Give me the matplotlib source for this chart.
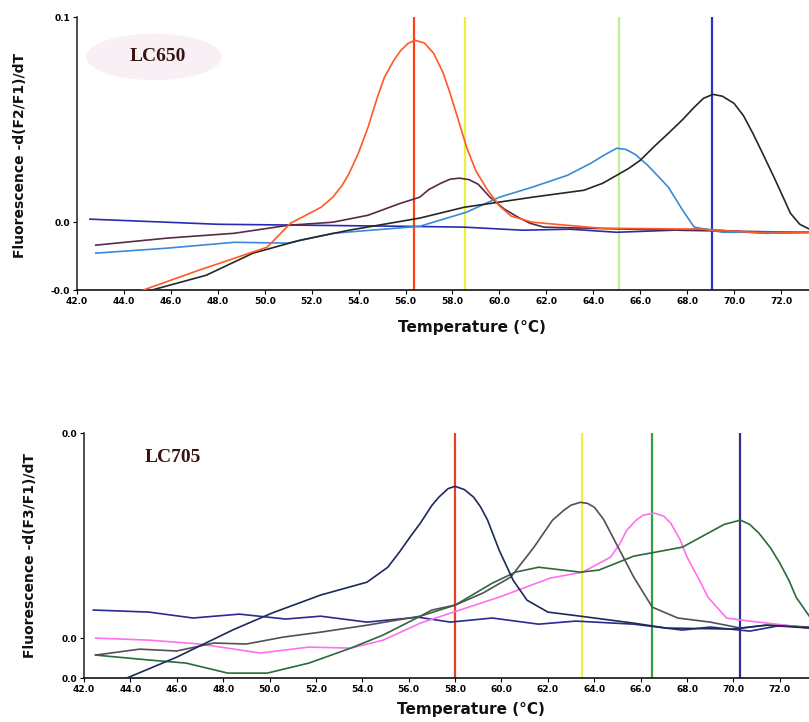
"""
Melting curves LC650 / LC705
"""

import matplotlib
matplotlib.use('Agg')
import matplotlib.pyplot as plt
from matplotlib.patches import Ellipse

plt.rcParams['font.family'] = ['DejaVu Sans']

# ---- LC650 (top) ----
top_orange_t = [44.6, 47.2, 50.1, 51.1, 52.4, 52.9, 53.3, 53.6, 54.0, 54.4, 54.8, 55.1,
                55.5, 55.8, 56.1, 56.4, 56.8, 57.2, 57.6, 57.9, 58.3, 58.6, 59.0, 59.5,
                60.0, 60.5, 61.4, 64.3, 68.6, 71.4, 73.3]
top_orange_v = [-0.034, -0.0234, -0.0122, -0.0005, 0.0073, 0.0122, 0.018, 0.0239, 0.034,
                0.0463, 0.061, 0.0707, 0.079, 0.0839, 0.0872, 0.0888, 0.0875, 0.0824,
                0.073, 0.0629, 0.048, 0.0366, 0.025, 0.0156, 0.008, 0.003, 0.0, -0.0029,
                -0.0034, -0.0054, -0.0049]

top_black_t = [45.0, 47.5, 49.5, 51.5, 53.6, 56.6, 58.5, 61.4, 63.6, 64.4, 65.0, 65.5,
               66.0, 66.6, 67.2, 67.8, 68.3, 68.7, 69.1, 69.5, 70.0, 70.4, 70.8, 71.2,
               71.7, 72.1, 72.4, 72.8, 73.3]
top_black_v = [-0.0337, -0.0259, -0.0151, -0.0088, -0.0039, 0.002, 0.0073, 0.0122, 0.0156,
               0.019, 0.0229, 0.0262, 0.0302, 0.037, 0.0434, 0.050, 0.0561, 0.0605, 0.0624,
               0.0615, 0.058, 0.052, 0.0434, 0.034, 0.022, 0.012, 0.0044, -0.001, -0.0039]

top_maroon_t = [42.8, 45.8, 48.7, 51.0, 52.9, 54.4, 55.8, 56.6, 57.0, 57.5, 57.9, 58.3,
                58.7, 59.1, 59.6, 60.2, 60.8, 61.3, 61.9, 64.0, 68.0, 73.3]
top_maroon_v = [-0.0112, -0.0078, -0.0054, -0.0015, 0.0, 0.0034, 0.0093, 0.0122, 0.016,
                0.019, 0.021, 0.0215, 0.0208, 0.0185, 0.0122, 0.0065, 0.0024, -0.0005,
                -0.0024, -0.003, -0.004, -0.005]

top_lblue_t = [42.8, 45.8, 48.7, 51.0, 52.9, 56.6, 58.6, 60.0, 61.4, 62.9, 63.9, 64.5,
               65.0, 65.4, 65.8, 66.3, 66.8, 67.2, 67.8, 68.3, 69.5, 73.3]
top_lblue_v = [-0.0151, -0.0127, -0.0098, -0.0102, -0.0054, -0.002, 0.0049, 0.0122,
               0.0171, 0.0229, 0.0288, 0.033, 0.0361, 0.0355, 0.033, 0.028, 0.022, 0.0171,
               0.006, -0.0024, -0.0049, -0.0049]

top_blue_t = [42.55, 48.0, 52.0, 56.0, 58.5, 61.0, 63.0, 65.0, 68.6, 71.4, 73.3]
top_blue_v = [0.0015, -0.001, -0.0015, -0.002, -0.0024, -0.0039, -0.0034, -0.0049,
              -0.0034, -0.0054, -0.0049]

top_marker_t = [56.37, 58.55, 65.1, 69.08]

# ---- LC705 (bottom) ----
bot_navy_t = [43.85, 46.0, 48.4, 50.1, 52.2, 54.2, 55.1, 55.6, 56.1, 56.5, 57.0, 57.3,
              57.7, 58.0, 58.4, 58.8, 59.1, 59.4, 59.9, 60.5, 61.1, 62.0, 63.4, 65.7,
              67.1, 70.0, 71.4, 73.3]
bot_navy_v = [-0.0195, -0.0093, 0.0039, 0.0122, 0.021, 0.0273, 0.0346, 0.042, 0.050,
              0.0561, 0.0648, 0.0688, 0.073, 0.0741, 0.0725, 0.0688, 0.064, 0.0576,
              0.0429, 0.0283, 0.0185, 0.0127, 0.0107, 0.0073, 0.0049, 0.0044, 0.0063,
              0.0049]

bot_gray_t = [42.5, 44.4, 46.0, 47.6, 49.0, 50.6, 52.2, 54.2, 56.5, 57.0, 58.0, 59.2,
              60.4, 61.4, 62.2, 62.7, 63.0, 63.4, 63.7, 64.0, 64.4, 64.8, 65.7, 66.5,
              67.6, 69.0, 70.3, 71.4, 73.3]
bot_gray_v = [-0.0083, -0.0054, -0.0063, -0.0024, -0.0029, 0.0005, 0.0029, 0.0063, 0.0107,
              0.0137, 0.0161, 0.022, 0.0298, 0.0444, 0.0576, 0.0625, 0.0649, 0.0663,
              0.0658, 0.0639, 0.058, 0.0493, 0.0298, 0.0151, 0.0098, 0.0078, 0.0049,
              0.0063, 0.0054]

bot_pink_t = [42.5, 44.8, 47.0, 49.6, 51.7, 53.5, 54.9, 56.5, 57.8, 59.9, 62.1, 63.5,
              64.7, 65.1, 65.4, 65.8, 66.1, 66.6, 67.0, 67.3, 67.7, 68.0, 68.5, 68.9,
              69.7, 70.7, 73.3]
bot_pink_v = [0.0, -0.001, -0.0029, -0.0073, -0.0044, -0.0049, -0.001, 0.0073, 0.0122,
              0.02, 0.0293, 0.0322, 0.0395, 0.046, 0.0527, 0.0575, 0.06, 0.061, 0.0595,
              0.0561, 0.048, 0.0395, 0.029, 0.02, 0.0098, 0.0083, 0.0049]

bot_green_t = [42.5, 44.8, 46.4, 48.2, 49.9, 51.7, 53.5, 54.9, 56.5, 58.0, 59.6, 60.6,
               61.6, 63.4, 64.2, 65.7, 67.8, 68.9, 69.6, 70.3, 70.7, 71.1, 71.6, 72.0,
               72.4, 72.7, 73.3]
bot_green_v = [-0.0083, -0.0107, -0.0122, -0.0171, -0.0171, -0.0122, -0.0049, 0.0015,
               0.0107, 0.0161, 0.0268, 0.0322, 0.0346, 0.0322, 0.0332, 0.04, 0.0444,
               0.0512, 0.0555, 0.0576, 0.0555, 0.0512, 0.044, 0.0366, 0.028, 0.02, 0.0102]

bot_blue_t = [42.4, 44.8, 46.7, 48.7, 50.7, 52.2, 54.2, 56.4, 57.8, 59.6, 61.6, 63.2,
              65.7, 67.8, 69.0, 70.7, 72.1, 73.3]
bot_blue_v = [0.0137, 0.0127, 0.0098, 0.0117, 0.0093, 0.0107, 0.0078, 0.0102, 0.0078,
              0.0098, 0.0068, 0.0083, 0.0068, 0.0039, 0.0054, 0.0034, 0.0063, 0.0049]

bot_marker_t = [58.0, 63.45, 66.5, 70.3]

x_ticks = [42.0, 44.0, 46.0, 48.0, 50.0, 52.0, 54.0, 56.0, 58.0, 60.0, 62.0, 64.0,
           66.0, 68.0, 70.0, 72.0]


def style_axis(ax, ylim, yticks, ylabels, ylabel, xmax):
    ax.set_xlim(42.0, xmax)
    ax.set_ylim(*ylim)
    for s in ['top', 'right']:
        ax.spines[s].set_visible(False)
    ax.spines['left'].set_color('#303040')
    ax.spines['bottom'].set_color('#101010')
    ax.spines['left'].set_linewidth(1.2)
    ax.spines['bottom'].set_linewidth(1.2)
    ax.set_xticks(x_ticks)
    ax.set_xticklabels([f'{t:.1f}' for t in x_ticks], fontsize=6.5, fontweight='bold')
    ax.set_yticks(yticks)
    ax.set_yticklabels(ylabels, fontsize=6.5, fontweight='bold')
    ax.tick_params(length=3, width=0.8, pad=2)
    ax.set_xlabel('Temperature (°C)', fontsize=11, fontweight='bold', color='#111111')
    ax.set_ylabel(ylabel, fontsize=10, fontweight='bold', color='#111111')


fig = plt.figure(figsize=(8.09, 7.22), dpi=100)

# top panel
ax1 = fig.add_axes([0.0952, 0.598, 0.905, 0.378])
style_axis(ax1, (-0.0332, 0.1), [-0.0332, 0.0, 0.1], ['-0.0', '0.0', '0.1'],
           'Fluorescence -d(F2/F1)/dT', 73.2)
ax1.xaxis.set_label_coords(0.54, -0.11)
ax1.yaxis.set_label_coords(-0.068, 0.495)

ax1.add_patch(Ellipse((0.105, 0.855), 0.185, 0.17, transform=ax1.transAxes,
                      facecolor='#f8f0f4', edgecolor='none', zorder=0))
ax1.text(0.11, 0.855, 'LC650', transform=ax1.transAxes, ha='center', va='center',
         fontsize=14, fontweight='bold', family='Liberation Serif', color='#3a1414')

top_marker_colors = ['#ff4010', '#e8f040', '#c0f090', '#3030c8']
for t, c in zip(top_marker_t, top_marker_colors):
    ax1.axvline(t, color=c, linewidth=1.6, zorder=1)

kw = dict(linewidth=1.2, zorder=3, solid_joinstyle='round')
ax1.plot(top_blue_t, top_blue_v, color='#2a2ab0', **kw)
ax1.plot(top_maroon_t, top_maroon_v, color='#5a2848', **kw)
ax1.plot(top_lblue_t, top_lblue_v, color='#3a8ad8', **kw)
ax1.plot(top_black_t, top_black_v, color='#262626', **kw)
ax1.plot(top_orange_t, top_orange_v, color='#ff5a22', **kw)

# bottom panel
ax2 = fig.add_axes([0.1038, 0.0609, 0.896, 0.339])
style_axis(ax2, (-0.0195, 0.1), [-0.0195, 0.0, 0.1], ['0.0', '0.0', '0.0'],
           'Fluorescence -d(F3/F1)/dT', 73.25)
ax2.xaxis.set_label_coords(0.534, -0.098)
ax2.yaxis.set_label_coords(-0.065, 0.50)

ax2.text(0.122, 0.9, 'LC705', transform=ax2.transAxes, ha='center', va='center',
         fontsize=14, fontweight='bold', family='Liberation Serif', color='#3a1414')

bot_marker_colors = ['#e84020', '#f0f040', '#30a040', '#303090']
for t, c in zip(bot_marker_t, bot_marker_colors):
    ax2.axvline(t, color=c, linewidth=1.6, zorder=1)

ax2.plot(bot_blue_t, bot_blue_v, color='#2a2a90', **kw)
ax2.plot(bot_pink_t, bot_pink_v, color='#ff70ee', **kw)
ax2.plot(bot_green_t, bot_green_v, color='#2a6a3a', **kw)
ax2.plot(bot_gray_t, bot_gray_v, color='#505058', **kw)
ax2.plot(bot_navy_t, bot_navy_v, color='#1c2a5a', **kw)

plt.savefig('out.png', dpi=100)
